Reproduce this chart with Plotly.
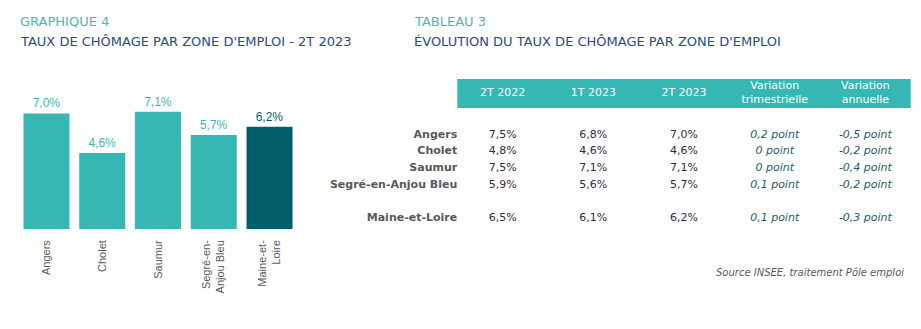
import plotly.graph_objects as go

# ---------------- data ----------------
zones = ["Angers", "Cholet", "Saumur", "Segré-en-Anjou Bleu", "Maine-et-Loire"]
zone_ticks = ["Angers", "Cholet", "Saumur", "Segré-en-<br>Anjou Bleu", "Maine-et-<br>Loire"]
taux_2t2023 = [7.0, 4.6, 7.1, 5.7, 6.2]

col_headers = ["2T 2022", "1T 2023", "2T 2023", "Variation<br>trimestrielle", "Variation<br>annuelle"]
t_2t2022 = [7.5, 4.8, 7.5, 5.9, 6.5]
t_1t2023 = [6.8, 4.6, 7.1, 5.6, 6.1]
t_2t2023 = [7.0, 4.6, 7.1, 5.7, 6.2]
var_trim = [0.2, 0.0, 0.0, 0.1, 0.1]
var_ann = [-0.5, -0.2, -0.4, -0.2, -0.3]

# ---------------- style ----------------
TEAL = "#37B7B4"
DARK = "#005F68"
TITLE_TEAL = "#4DB6B3"
NAVY = "#2B4A86"
GREY = "#595959"
VAL = "#3E2444"
VAR = "#1E5C66"
FONT = "DejaVu Sans"

def pct(v):
    return f"{v:.1f}".replace(".", ",") + "%"

def pts(v):
    if v == 0:
        return "0 point"
    return f"{v:.1f}".replace(".", ",") + " point"

fig = go.Figure()

# bar chart
fig.add_trace(go.Bar(
    x=zone_ticks, y=taux_2t2023,
    marker=dict(color=[TEAL] * 4 + [DARK], line=dict(width=0)),
    texttemplate="%{y:.1f}%", textposition="outside",
    textfont=dict(family="Liberation Sans", size=12, color=[TEAL] * 4 + [DARK]),
    cliponaxis=False, hoverinfo="skip", showlegend=False,
    xaxis="x", yaxis="y",
))

# table (text drawn on overlay axes)
row_pos = [i if z != "Maine-et-Loire" else i + 1 for i, z in enumerate(zones)]
header_row = -2.5

fig.add_trace(go.Scatter(
    x=list(range(len(col_headers))), y=[header_row] * len(col_headers),
    text=col_headers, mode="text", textposition="middle center",
    textfont=dict(family=FONT, size=11, color="white"),
    xaxis="x2", yaxis="y2", hoverinfo="skip", showlegend=False,
))
fig.add_trace(go.Scatter(
    x=[-0.5] * len(zones), y=row_pos,
    text=[f"<b>{z}</b>" for z in zones], mode="text", textposition="middle left",
    textfont=dict(family=FONT, size=11, color=GREY),
    xaxis="x2", yaxis="y2", hoverinfo="skip", showlegend=False,
))
columns = [
    ([pct(v) for v in t_2t2022], VAL),
    ([pct(v) for v in t_1t2023], VAL),
    ([pct(v) for v in t_2t2023], VAL),
    ([f"<i>{pts(v)}</i>" for v in var_trim], VAR),
    ([f"<i>{pts(v)}</i>" for v in var_ann], VAR),
]
for ci, (texts, color) in enumerate(columns):
    fig.add_trace(go.Scatter(
        x=[ci] * len(texts), y=row_pos, text=texts, mode="text",
        textposition="middle center",
        textfont=dict(family=FONT, size=11, color=color),
        xaxis="x2", yaxis="y2", hoverinfo="skip", showlegend=False,
    ))

fig.add_shape(type="rect", xref="x2", yref="y2", x0=-0.5, x1=len(col_headers) - 0.5,
              y0=header_row - 0.87, y1=header_row + 0.87,
              fillcolor=TEAL, line=dict(width=0), layer="below")

W, H = 921, 329
fig.update_layout(
    width=W, height=H, margin=dict(l=0, r=0, t=0, b=0),
    paper_bgcolor="white", plot_bgcolor="white",
    separators=", ",
    bargap=0.175,
    xaxis=dict(domain=[18.6 / W, 297.4 / W], showgrid=False, showline=False, zeroline=False,
               ticks="", tickangle=-90, ticklabelstandoff=8,
               tickfont=dict(family="Liberation Sans", size=11, color=GREY),
               fixedrange=True),
    yaxis=dict(domain=[(H - 229) / H, (H - 60) / H], range=[0, 10.24], visible=False, fixedrange=True),
    xaxis2=dict(domain=[300 / W, 1.0], range=[-2.234, 4.613], visible=False, fixedrange=True),
    yaxis2=dict(domain=[(H - 240) / H, (H - 70) / H], range=[6.325, -3.916], visible=False, fixedrange=True),
    annotations=[
        dict(text="GRAPHIQUE 4", x=18 / W, y=(H - 22) / H, xref="paper", yref="paper",
             xanchor="left", yanchor="middle", showarrow=False,
             font=dict(family=FONT, size=13, color=TITLE_TEAL)),
        dict(text="TAUX DE CHÔMAGE PAR ZONE D'EMPLOI - 2T 2023", x=18 / W, y=(H - 41) / H,
             xref="paper", yref="paper", xanchor="left", yanchor="middle", showarrow=False,
             font=dict(family=FONT, size=13, color=NAVY)),
        dict(text="TABLEAU 3", x=412 / W, y=(H - 22) / H, xref="paper", yref="paper",
             xanchor="left", yanchor="middle", showarrow=False,
             font=dict(family=FONT, size=13, color=TITLE_TEAL)),
        dict(text="ÉVOLUTION DU TAUX DE CHÔMAGE PAR ZONE D'EMPLOI", x=412 / W, y=(H - 41) / H,
             xref="paper", yref="paper", xanchor="left", yanchor="middle", showarrow=False,
             font=dict(family=FONT, size=13, color=NAVY)),
        dict(text="<i>Source INSEE, traitement Pôle emploi</i>", x=906 / W, y=(H - 272) / H,
             xref="paper", yref="paper", xanchor="right", yanchor="middle", showarrow=False,
             font=dict(family=FONT, size=10, color=GREY)),
    ],
)

fig.write_html("out.html")
